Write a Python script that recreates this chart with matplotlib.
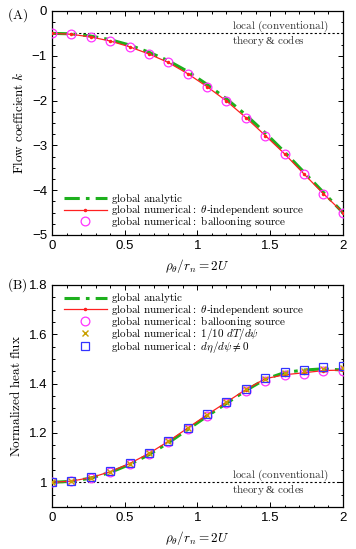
import numpy as np
import matplotlib.pyplot as plt
from matplotlib.ticker import MultipleLocator

plt.rcParams['mathtext.fontset'] = 'cm'
plt.rcParams['font.family'] = 'Liberation Sans'

# normalized radial parameter rho_theta / r_n = 2U
x = [0, 0.1333, 0.2667, 0.4, 0.5333, 0.6667, 0.8, 0.9333,
     1.0667, 1.2, 1.3333, 1.4667, 1.6, 1.7333, 1.8667, 2.0]

# (A) flow coefficient k
k_analytic = [-0.50, -0.51, -0.56, -0.64, -0.76, -0.92, -1.11, -1.35,
              -1.64, -1.96, -2.32, -2.72, -3.15, -3.60, -4.05, -4.50]
k_theta_indep = [-0.50, -0.52, -0.58, -0.67, -0.80, -0.96, -1.15, -1.40,
                 -1.69, -2.01, -2.38, -2.78, -3.19, -3.64, -4.08, -4.50]
k_ballooning = [-0.50, -0.52, -0.59, -0.67, -0.80, -0.96, -1.15, -1.40,
                -1.69, -2.01, -2.38, -2.78, -3.19, -3.65, -4.08, -4.50]

# (B) normalized heat flux
q_analytic = [1.000, 1.004, 1.017, 1.040, 1.072, 1.112, 1.160, 1.214,
              1.268, 1.320, 1.372, 1.418, 1.445, 1.455, 1.460, 1.455]
q_theta_indep = [1.000, 1.005, 1.019, 1.043, 1.076, 1.117, 1.166, 1.220,
                 1.274, 1.325, 1.376, 1.420, 1.436, 1.444, 1.453, 1.455]
q_ballooning = [1.000, 1.004, 1.016, 1.040, 1.073, 1.114, 1.162, 1.216,
                1.270, 1.321, 1.372, 1.410, 1.435, 1.440, 1.453, 1.452]
q_dTdpsi = [1.000, 1.005, 1.019, 1.043, 1.076, 1.117, 1.166, 1.220,
            1.274, 1.325, 1.377, 1.420, 1.444, 1.450, 1.460, 1.462]
q_detadpsi = [1.000, 1.005, 1.020, 1.044, 1.077, 1.119, 1.168, 1.222,
              1.276, 1.326, 1.378, 1.422, 1.448, 1.454, 1.466, 1.473]

green = '#1db01d'
magenta = '#ff33ff'
gold = '#c8a000'
blue = '#3333ff'

fig = plt.figure(figsize=(3.56, 5.49), dpi=100)
ax1 = fig.add_axes([0.146, 0.572, 0.817, 0.408])
ax2 = fig.add_axes([0.146, 0.0765, 0.817, 0.4045])


def serif(s):
    s = s.replace(' ', r'\ ').replace(':', '{:}')
    return r'$\mathrm{' + s + '}$'


lab_an = serif('global analytic')
lab_th = serif('global numerical:') + r' $\theta$-' + serif('independent source')
lab_bl = serif('global numerical: ballooning source')
lab_dT = serif('global numerical:') + r' $1/10\ dT/d\psi$'
lab_de = serif('global numerical:') + r' $d\eta/d\psi \neq 0$'
lab_local = serif('local (conventional)')
lab_codes = serif('theory') + ' & ' + serif('codes')

fs_leg = 8
fs_lab = 9.5
leg_kw = dict(frameon=False, fontsize=fs_leg, handlelength=3.9,
              labelspacing=-0.28, borderpad=0.0, borderaxespad=0.0,
              handletextpad=0.4)

# top panel
ax1.axhline(-0.5, color='k', ls=(0, (2, 2)), lw=0.8, zorder=1)
ax1.plot(x, k_analytic, color=green, lw=2.2, dashes=(5, 2, 1.2, 2),
         label=lab_an, zorder=2)
ax1.plot(x, k_theta_indep, color='#ff2020', lw=0.9, marker='.', ms=3,
         label=lab_th, zorder=3)
ax1.plot(x, k_ballooning, ls='none', marker='o', ms=6.3, mfc='none',
         mec=magenta, mew=0.9, label=lab_bl, zorder=4)
ax1.set_xlim(0, 2)
ax1.set_ylim(-5, 0)
ax1.text(1.24, -0.34, lab_local, fontsize=fs_leg, color='#333333', va='center')
ax1.text(1.24, -0.66, lab_codes, fontsize=fs_leg, color='#333333', va='center',
         family='Liberation Serif')
ax1.set_ylabel(r'$\mathrm{Flow\ coefficient}\ k$', fontsize=fs_lab)
ax1.set_xlabel(r'$\rho_\theta/r_n = 2U$', fontsize=fs_lab)
ax1.legend(loc='lower left', bbox_to_anchor=(0.04, 0.025), **leg_kw)
ax1.yaxis.set_major_locator(MultipleLocator(1))
ax1.yaxis.set_minor_locator(MultipleLocator(0.25))

# bottom panel
ax2.axhline(1.0, color='k', ls=(0, (2, 2)), lw=0.8, zorder=1)
ax2.plot(x, q_analytic, color=green, lw=2.2, dashes=(5, 2, 1.2, 2),
         label=lab_an, zorder=2)
ax2.plot(x, q_theta_indep, color='#ff2020', lw=0.9, marker='.', ms=3,
         label=lab_th, zorder=3)
ax2.plot(x, q_ballooning, ls='none', marker='o', ms=6.3, mfc='none',
         mec=magenta, mew=0.9, label=lab_bl, zorder=4)
ax2.plot(x, q_dTdpsi, ls='none', marker='x', ms=4.2, color=gold, mew=1.0,
         label=lab_dT, zorder=5)
ax2.plot(x, q_detadpsi, ls='none', marker='s', ms=5.8, mfc='none',
         mec=blue, mew=0.9, label=lab_de, zorder=6)
ax2.set_xlim(0, 2)
ax2.set_ylim(0.9, 1.8)
ax2.text(1.24, 1.029, lab_local, fontsize=fs_leg, color='#333333', va='center')
ax2.text(1.24, 0.971, lab_codes, fontsize=fs_leg, color='#333333', va='center',
         family='Liberation Serif')
ax2.set_ylabel(serif('Normalized heat flux'), fontsize=fs_lab)
ax2.set_xlabel(r'$\rho_\theta/r_n = 2U$', fontsize=fs_lab)
ax2.legend(loc='upper left', bbox_to_anchor=(0.04, 0.975), **leg_kw)
ax2.set_yticks([1.0, 1.2, 1.4, 1.6, 1.8])
ax2.set_yticklabels(['1', '1.2', '1.4', '1.6', '1.8'])
ax2.yaxis.set_minor_locator(MultipleLocator(0.05))

for ax in (ax1, ax2):
    ax.xaxis.set_major_locator(MultipleLocator(0.5))
    ax.xaxis.set_minor_locator(MultipleLocator(0.1))
    ax.xaxis.set_major_formatter(plt.FuncFormatter(lambda v, p: '%g' % v))
    ax.tick_params(which='both', direction='in', top=True, right=True,
                   labelsize=9.5, width=0.7)
    ax.tick_params(which='major', length=3.5)
    ax.tick_params(which='minor', length=1.8)
    for s in ax.spines.values():
        s.set_linewidth(0.9)

fig.text(0.02, 0.973, serif('(A)'), fontsize=fs_lab, va='center')
fig.text(0.02, 0.481, serif('(B)'), fontsize=fs_lab, va='center')

fig.savefig('out.png', dpi=100)
